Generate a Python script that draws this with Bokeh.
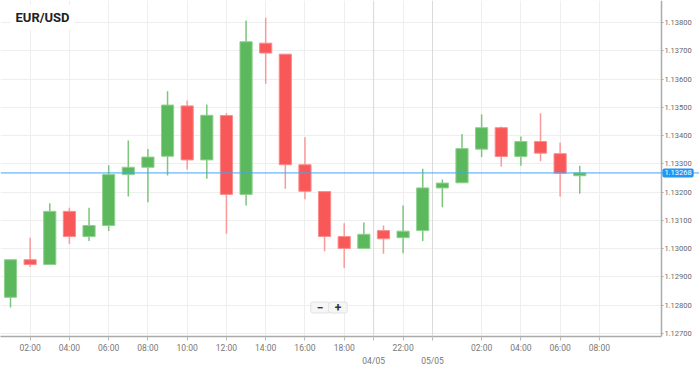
from bokeh.plotting import figure
from bokeh.models import (FixedTicker, Span, Label, ColumnDataSource, Range1d,
                          PrintfTickFormatter, LinearAxis, BoxAnnotation)
from bokeh.embed import file_html
from bokeh.resources import INLINE

# ---------------- data ----------------
candle_index = list(range(1, 31))
open_ = [1.12828, 1.12961, 1.12944, 1.13132, 1.13043, 1.13082, 1.13262, 1.13288,
         1.13327, 1.13505, 1.13314, 1.13471, 1.13192, 1.13727, 1.13688, 1.13297,
         1.13202, 1.13043, 1.13001, 1.13064, 1.13039, 1.13064, 1.13215, 1.13233,
         1.13352, 1.13428, 1.13326, 1.13379, 1.13336, 1.13258]
high = [1.12962, 1.13039, 1.13161, 1.13145, 1.13145, 1.13295, 1.13383, 1.13353,
        1.13557, 1.13524, 1.13510, 1.13479, 1.13807, 1.13817, 1.13688, 1.13394,
        1.13202, 1.13090, 1.13093, 1.13082, 1.13153, 1.13283, 1.13245, 1.13406,
        1.13475, 1.13432, 1.13397, 1.13479, 1.13376, 1.13293]
low = [1.12792, 1.12935, 1.12944, 1.13017, 1.13027, 1.13063, 1.13185, 1.13164,
       1.13259, 1.13280, 1.13247, 1.13053, 1.13153, 1.13583, 1.13212, 1.13175,
       1.12991, 1.12932, 1.13001, 1.12982, 1.12984, 1.13027, 1.13147, 1.13233,
       1.13324, 1.13291, 1.13293, 1.13309, 1.13185, 1.13194]
close = [1.12961, 1.12944, 1.13132, 1.13043, 1.13082, 1.13262, 1.13288, 1.13324,
         1.13508, 1.13314, 1.13472, 1.13192, 1.13732, 1.13692, 1.13297, 1.13203,
         1.13043, 1.13001, 1.13051, 1.13035, 1.13062, 1.13215, 1.13232, 1.13354,
         1.13428, 1.13326, 1.13379, 1.13338, 1.13267, 1.13268]
current_price = 1.13268

price_ticks = [1.127, 1.128, 1.129, 1.130, 1.131, 1.132, 1.133, 1.134,
               1.135, 1.136, 1.137, 1.138]
time_tick_pos = [2, 4, 6, 8, 10, 12, 14, 16, 18, 19.5, 21, 22.5, 25, 27, 29, 31]
time_tick_labels = ["02:00", "04:00", "06:00", "08:00", "10:00", "12:00", "14:00",
                    "16:00", "18:00", "", "22:00", "", "02:00", "04:00", "06:00",
                    "08:00"]
date_pos = [19.5, 22.5]
date_labels = ["04/05", "05/05"]
title = "EUR/USD"

# ---------------- styling ----------------
GREEN = "#5cb85c"
RED = "#f85858"
FONT = "Roboto"

up = [c >= o for o, c in zip(open_, close)]
src = ColumnDataSource(dict(
    x=candle_index,
    top=[max(o, c) for o, c in zip(open_, close)],
    bottom=[min(o, c) for o, c in zip(open_, close)],
    high=high, low=low,
    color=[GREEN if u else RED for u in up],
    wick=["#7cc67c" if u else "#f99a9a" for u in up],
    edge=["#8fd18f" if u else "#fb8c8c" for u in up],
))

# the plotting area ends at X_END; the frame continues to the page edge so
# that the price scale and the price tag can be drawn inside it
X_START, X_END, X_PAGE_END = 0.49, 34.16, 36.10
Y_TOP = 1.138779
Y_BOT = 1.126894
p = figure(frame_width=699, frame_height=336, output_backend="svg",
           toolbar_location=None,
           x_range=Range1d(X_START, X_PAGE_END), y_range=Range1d(Y_BOT, Y_TOP),
           y_axis_location="right",
           min_border_left=0, min_border_top=0, min_border_right=0,
           min_border_bottom=0)
p.outline_line_color = None
p.background_fill_color = "white"
p.border_fill_color = "white"

# right price axis, pinned at the right edge of the plotting area
ya = p.yaxis[0]
ya.fixed_location = X_END
ya.ticker = FixedTicker(ticks=price_ticks)
ya.formatter = PrintfTickFormatter(format="%.5f")
ya.major_label_text_font = FONT
ya.major_label_text_font_size = "7.5px"
ya.major_label_text_color = "#666666"
ya.axis_line_color = "#aaaaaa"
ya.axis_line_width = 1.5
ya.major_tick_line_color = "#aaaaaa"
ya.major_tick_out = 2
ya.major_tick_in = 0
ya.minor_tick_line_color = None
ya.minor_tick_out = 0
ya.major_label_standoff = 1

xa = p.xaxis[0]
xa.bounds = (X_START, X_END)
xa.ticker = FixedTicker(ticks=time_tick_pos)
xa.major_label_overrides = {float(t): lab for t, lab in zip(time_tick_pos, time_tick_labels)}
xa.major_label_text_font = FONT
xa.major_label_text_font_size = "8.5px"
xa.major_label_text_color = "#777777"
xa.axis_line_color = "#aaaaaa"
xa.axis_line_width = 1.5
xa.major_tick_line_color = "#bbbbbb"
xa.major_tick_out = 4
xa.major_tick_in = 0
xa.minor_tick_line_color = None
xa.minor_tick_out = 0
xa.minor_tick_in = 0
xa.major_label_standoff = 2

# second row of the time axis: the dates
xd = LinearAxis(ticker=FixedTicker(ticks=date_pos),
                major_label_overrides={float(t): lab for t, lab in zip(date_pos, date_labels)},
                axis_line_color=None, major_tick_line_color=None,
                minor_tick_line_color=None, major_tick_out=0, major_tick_in=0,
                minor_tick_out=0, minor_tick_in=0, major_label_standoff=0,
                major_label_text_font=FONT, major_label_text_font_size="8.5px",
                major_label_text_color="#777777")
p.add_layout(xd, "below")

p.xgrid.grid_line_color = "#eeeeee"
p.ygrid.grid_line_color = "#eeeeee"

# keep the price-scale strip free of grid lines
p.add_layout(BoxAnnotation(left=X_END, fill_color="white", fill_alpha=1.0,
                           line_color=None, level="underlay"))

for d in date_pos:
    p.add_layout(Span(location=d, dimension="height", line_color="#dadada",
                      line_width=1))

# candles
p.segment(x0="x", x1="x", y0="low", y1="high", source=src, line_color="wick",
          line_width=1.5)
p.vbar(x="x", width=0.62, top="top", bottom="bottom", source=src,
       fill_color="color", line_color="edge", line_width=1)

# current price
p.add_layout(Span(location=current_price, dimension="width", line_color="#42a5f5",
                  line_width=1))
p.add_layout(Label(x=X_END + 0.05, y=current_price, text=f"{current_price:.5f}",
                   text_align="left", text_baseline="middle", text_color="white",
                   text_font=FONT, text_font_size="7.5px",
                   background_fill_color="#2196f3", padding=2, border_radius=2))

# title
p.add_layout(Label(x=1.0, y=1.138195, text=title, text_align="left",
                   text_baseline="middle", text_font=FONT, text_font_style="bold",
                   text_font_size="13px", text_color="#222222",
                   background_fill_color="white", padding=5))

# zoom buttons
for bx, sym in [(16.77, "\u2212"), (17.68, "+")]:
    p.add_layout(Label(x=bx, y=1.127919, text=sym, text_align="center",
                       text_baseline="middle", text_font=FONT,
                       text_font_style="bold", text_font_size="12px",
                       text_color="#333333", background_fill_color="#f6f6f6",
                       border_line_color="#e2e2e2", padding=(6, 1),
                       border_radius=2))

open("out.html", "w").write(file_html(p, INLINE))
